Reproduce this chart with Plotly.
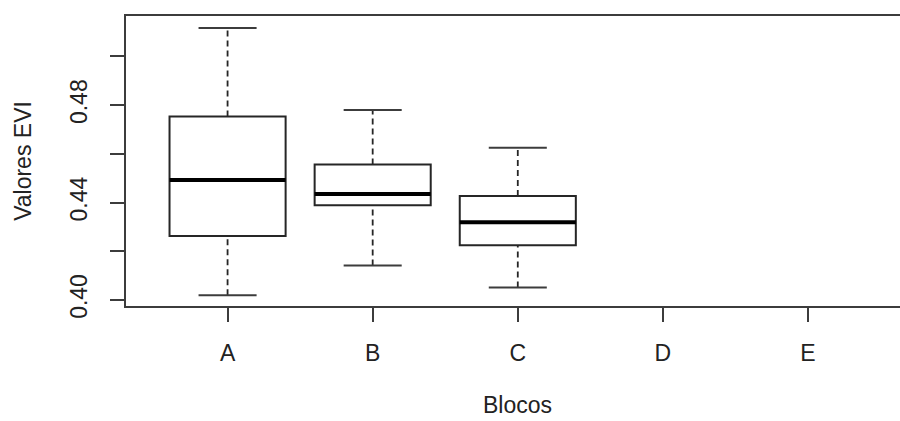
import plotly.graph_objects as go

categories = ["A", "B", "C", "D", "E"]
groups = ["A", "B", "C"]
lower_whisker = [0.4019, 0.4141, 0.4051]
q1 = [0.4262, 0.4389, 0.4225]
median = [0.4492, 0.4435, 0.4319]
q3 = [0.4753, 0.4556, 0.4427]
upper_whisker = [0.5117, 0.4780, 0.4625]
y_ticks = [0.40, 0.42, 0.44, 0.46, 0.48, 0.50]
y_tick_labels = ["0.40", "", "0.44", "", "0.48", ""]

LINE = "#262626"
AXIS = "#3c3c3c"
FONT = dict(family="Liberation Sans, Arial, sans-serif", size=23, color="#222222")
BOX_W = 0.8
CAP_W = 0.4

pos = [categories.index(g) for g in groups]

fig = go.Figure()

# whiskers (dashed)
wx, wy = [], []
for p, lo, a, b, hi in zip(pos, lower_whisker, q1, q3, upper_whisker):
    wx += [p, p, None, p, p, None]
    wy += [lo, a, None, b, hi, None]
fig.add_trace(go.Scatter(x=wx, y=wy, mode="lines", hoverinfo="skip",
                         line=dict(color=LINE, width=1.8, dash="6px,4px"), showlegend=False))

# caps (solid)
cx, cy = [], []
for p, lo, hi in zip(pos, lower_whisker, upper_whisker):
    cx += [p - CAP_W / 2, p + CAP_W / 2, None, p - CAP_W / 2, p + CAP_W / 2, None]
    cy += [lo, lo, None, hi, hi, None]
fig.add_trace(go.Scatter(x=cx, y=cy, mode="lines", hoverinfo="skip",
                         line=dict(color=AXIS, width=2), showlegend=False))

# boxes
fig.add_trace(go.Box(x=pos, q1=q1, median=median, q3=q3,
                     lowerfence=q1, upperfence=q3, width=BOX_W,
                     fillcolor="white", line=dict(color=LINE, width=2),
                     whiskerwidth=0, showlegend=False, boxpoints=False))

# thick medians
mx, my = [], []
for p, m in zip(pos, median):
    mx += [p - BOX_W / 2, p + BOX_W / 2, None]
    my += [m, m, None]
fig.add_trace(go.Scatter(x=mx, y=my, mode="lines", hoverinfo="skip",
                         line=dict(color="black", width=4), showlegend=False))

fig.add_annotation(text="Blocos", x=2, xref="x", y=-0.394, yref="paper",
                   showarrow=False, xanchor="center", yanchor="bottom", font=FONT)

fig.update_layout(
    width=900, height=421,
    margin=dict(l=126, r=0, t=16, b=115, autoexpand=False),
    paper_bgcolor="white", plot_bgcolor="white",
    font=FONT,
    xaxis=dict(range=[-0.7, 4.634], tickvals=list(range(len(categories))),
               ticktext=categories, showgrid=False, zeroline=False, automargin=False,
               showline=True, linecolor=AXIS, linewidth=2, mirror=True,
               ticks="outside", ticklen=14, tickwidth=2, tickcolor=AXIS,
               ticklabelstandoff=11, tickfont=FONT),
    yaxis=dict(range=[0.3975, 0.5166], tickvals=y_ticks, ticktext=y_tick_labels,
               tickangle=-90, showgrid=False, zeroline=False, automargin=False,
               showline=True, linecolor=AXIS, linewidth=2, mirror=False,
               ticks="outside", ticklen=14, tickwidth=2, tickcolor=AXIS,
               ticklabelstandoff=14, tickfont=FONT,
               title=dict(text="Valores EVI", font=FONT, standoff=28)),
)

fig.write_html(
    "out.html",
    config={"displayModeBar": False},
    post_script="document.body.style.margin='0';document.body.style.overflow='hidden';",
)
